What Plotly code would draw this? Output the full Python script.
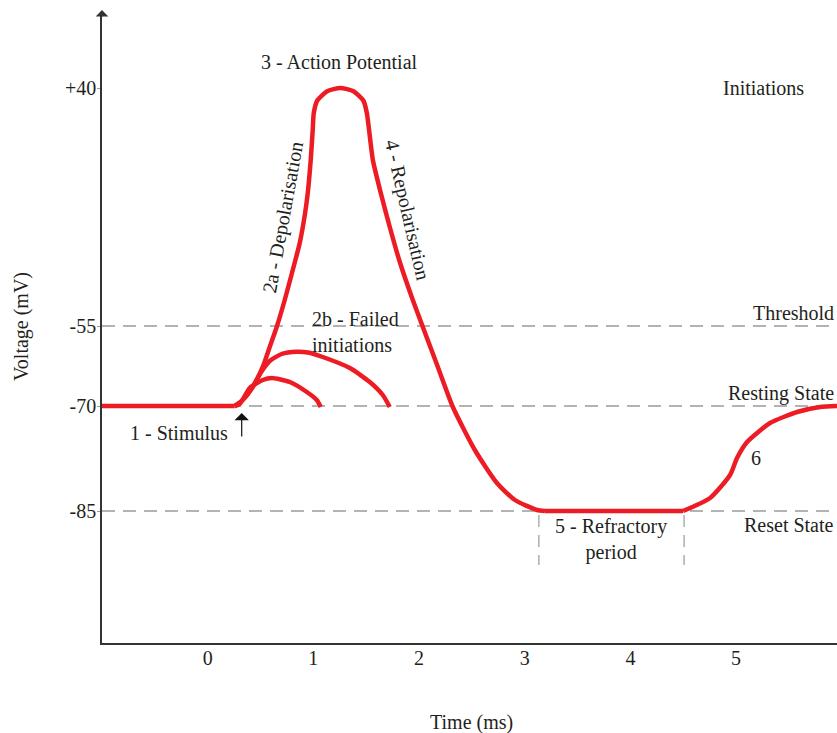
import plotly.graph_objects as go

# ---------------- data ----------------
# Time in ms; vertical values are in the diagram's schematic level units
# (the drawing is not linear in mV, so the mV labels are attached to level positions)
level_vals = [55.5, 31.7, 23.7, 13.2]
level_text = ["+40", "-55", "-70", "-85"]
level_names = ["Threshold", "Resting State", "Reset State"]

x_ticks = [0, 1, 2, 3, 4, 5]

# 1 - resting state before the stimulus
rest_t = [-1.0, 0.256]
rest_v = [23.7, 23.7]

# 2a / 3 / 4 - depolarisation, action potential peak, repolarisation
spike_t = [0.256, 0.331, 0.426, 0.521, 0.587, 0.653, 0.729, 0.805, 0.871,
           0.919, 0.947, 0.975, 0.994, 1.004, 1.037, 1.130, 1.255, 1.380, 1.473, 1.506,
           1.563, 1.638, 1.723, 1.818, 1.941, 2.036, 2.178, 2.320, 2.528, 2.737, 2.907,
           3.116, 3.191]
spike_v = [23.7, 24.3, 25.6, 27.6, 29.6, 31.6, 34.3, 37.3, 40.0,
           42.8, 45.0, 48.3, 51.3, 53.0, 54.25, 55.17, 55.5, 55.17, 54.25, 53.0,
           48.3, 45.0, 41.6, 38.1, 34.3, 31.6, 27.6, 23.6, 19.3, 16.0, 14.3,
           13.3, 13.2]

# 5 - refractory period (flat at reset state)
plateau_t = [3.191, 4.498]
plateau_v = [13.2, 13.2]

# 6 - return to resting state
recovery_t = [4.498, 4.754, 4.943, 5.009, 5.104, 5.322, 5.578, 5.795, 5.955]
recovery_v = [13.2, 14.5, 16.8, 18.5, 20.1, 22.0, 23.1, 23.6, 23.7]

# 2b - failed initiations
fail1_t = [0.256, 0.303, 0.398, 0.521, 0.606, 0.777, 0.938, 1.032, 1.070]
fail1_v = [23.7, 23.9, 25.5, 26.3, 26.5, 26.1, 25.1, 24.3, 23.6]

fail2_t = [0.256, 0.331, 0.426, 0.500, 0.587, 0.700, 0.840, 0.950, 1.089, 1.345, 1.534, 1.657, 1.723]
fail2_v = [23.7, 24.3, 25.6, 27.0, 28.2, 28.9, 29.13, 29.05, 28.6, 27.5, 26.1, 24.8, 23.6]

stimulus_t = 0.322
refractory_bounds = [3.134, 4.508]

RED = "#ed1c24"
INK = "#231f20"
AXIS = "#333333"
DASH = "#9a9a9a"
FONT = "Liberation Serif"
FS = 20

fig = go.Figure()
segments = [
    (rest_t, rest_v, "linear"),
    (spike_t, spike_v, "spline"),
    (plateau_t, plateau_v, "linear"),
    (recovery_t, recovery_v, "spline"),
    (fail1_t, fail1_v, "spline"),
    (fail2_t, fail2_v, "spline"),
]
for tt, vv, shp in segments:
    fig.add_trace(go.Scatter(x=tt, y=vv, mode="lines",
                             line=dict(color=RED, width=4.5, shape=shp, smoothing=0.6),
                             hoverinfo="skip"))

shapes = []
for lv in level_vals[1:]:
    shapes.append(dict(type="line", xref="paper", x0=0, x1=1, yref="y", y0=lv, y1=lv,
                       line=dict(color=DASH, width=1.3, dash="13px,8px"), layer="below"))
for rb in refractory_bounds:
    shapes.append(dict(type="line", xref="x", x0=rb, x1=rb, yref="y", y0=12.8, y1=7.8,
                       line=dict(color=DASH, width=1.2, dash="12px,8px"), layer="below"))

ann = []
def txt(x, y, s, **kw):
    d = dict(x=x, y=y, text=s, showarrow=False, font=dict(family=FONT, size=FS, color=INK))
    d.update(kw)
    ann.append(d)

txt(1.25, 58.1, "3 - Action Potential")
txt(5.256, 55.5, "Initiations")
txt(0.71, 42.6, "2a - Depolarisation", textangle=-79.6)
txt(1.894, 43.3, "4 - Repolarisation", textangle=77)
txt(0.966, 31.15, "2b - Failed<br>initiations", xanchor="left", align="left")
txt(1.0, level_vals[1] + 1.3, level_names[0], xref="paper", xanchor="right", xshift=-1)
txt(1.0, level_vals[2] + 1.3, level_names[1], xref="paper", xanchor="right", xshift=-1)
txt(1.0, level_vals[3] - 1.4, level_names[2], xref="paper", xanchor="right", xshift=-1)
txt(-0.275, 21.0, "1 - Stimulus")
txt(3.816, 10.35, "5 - Refractory<br>period")
txt(5.19, 18.5, "6")
txt(-0.1088, 0.5008, "Voltage (mV)", xref="paper", yref="paper", textangle=-90,
    xanchor="center", yanchor="middle")
txt(0.503, -0.1252, "Time (ms)", xref="paper", yref="paper",
    xanchor="center", yanchor="middle")

# stimulus arrow
ann.append(dict(x=stimulus_t, y=23.0, ax=0, ay=25, text="", showarrow=True,
                arrowhead=1, arrowsize=2.0, arrowwidth=1.2, arrowcolor="#111111"))
# axis arrowheads (the x-axis one sits just past the right edge of the window)
ann.append(dict(x=0, y=1.003, xref="paper", yref="paper", ax=0, ay=8, text="", showarrow=True,
                arrowhead=1, arrowsize=1.4, arrowwidth=1.5, arrowcolor=AXIS))
ann.append(dict(x=1.0115, y=0, xref="paper", yref="paper", ax=-10, ay=0, text="", showarrow=True,
                arrowhead=1, arrowsize=1.4, arrowwidth=1.5, arrowcolor=AXIS))

fig.update_layout(
    width=837, height=733,
    margin=dict(l=102, r=0, t=12, b=90),
    paper_bgcolor="white", plot_bgcolor="white",
    showlegend=False,
    font=dict(family=FONT, size=FS, color=INK),
    shapes=shapes, annotations=ann,
    xaxis=dict(range=[-1.0, 5.955], tickvals=x_ticks, showline=True, linecolor=AXIS,
               linewidth=1.5, showgrid=False, zeroline=False, ticks="",
               ticklabelstandoff=-4,
               tickfont=dict(family=FONT, size=FS, color=INK)),
    yaxis=dict(range=[0, 63.1], tickvals=level_vals, ticktext=level_text, showline=True,
               linecolor=AXIS, linewidth=1.5, showgrid=False, zeroline=False,
               ticks="outside", ticklen=3, tickcolor=DASH, ticklabelstandoff=-3,
               tickfont=dict(family=FONT, size=FS, color=INK)),
)

# remove the default page margin so the figure fills the 837x733 window exactly
fig.write_html("out.html", config={"displayModeBar": False},
               post_script="document.body.style.margin='0';document.body.style.overflow='hidden';")
